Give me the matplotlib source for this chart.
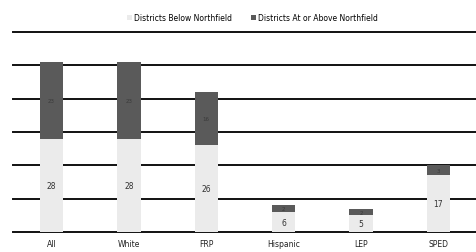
import numpy as np
import matplotlib
matplotlib.use('Agg')
import matplotlib.pyplot as plt

categories = ['All', 'White', 'FRP', 'Hispanic', 'LEP', 'SPED']
below = [28, 28, 26, 6, 5, 17]
above = [23, 23, 16, 2, 2, 3]

light = '#ebebeb'
dark = '#5a5a5a'

fig = plt.figure(figsize=(4.77, 2.53), dpi=100)
ax = fig.add_axes([0.027, 0.079, 0.973, 0.791])

x = np.arange(len(categories))
for yv in range(0, 61, 10):
    ax.axhline(yv, color='#111111', lw=1.4, zorder=1, clip_on=False)

ax.bar(x, below, width=0.3, color=light, zorder=2, label='Districts Below Northfield')
ax.bar(x, above, width=0.3, bottom=below, color=dark, zorder=2,
       label='Districts At or Above Northfield')

for xi, b, a in zip(x, below, above):
    ax.text(xi, b / 2, str(b), ha='center', va='center', fontsize=5.5, color='#333333', zorder=3)
    ax.text(xi, b + a / 2, str(a), ha='center', va='center', fontsize=4, color='#3a3a3a', zorder=3)

ax.set_xlim(-0.5, 5.5)
ax.set_ylim(0, 60)
ax.set_xticks(x)
ax.set_xticklabels(categories, fontsize=5.5, color='#222222')
ax.tick_params(axis='x', length=0, pad=5)
ax.set_yticks([])
for s in ax.spines.values():
    s.set_visible(False)

fig.legend(loc='upper center', bbox_to_anchor=(0.53, 0.97), ncol=2, frameon=False,
           fontsize=5.5, handlelength=0.6, handleheight=0.6, columnspacing=2.5, handletextpad=0.3)

fig.savefig('out.png', dpi=100)
